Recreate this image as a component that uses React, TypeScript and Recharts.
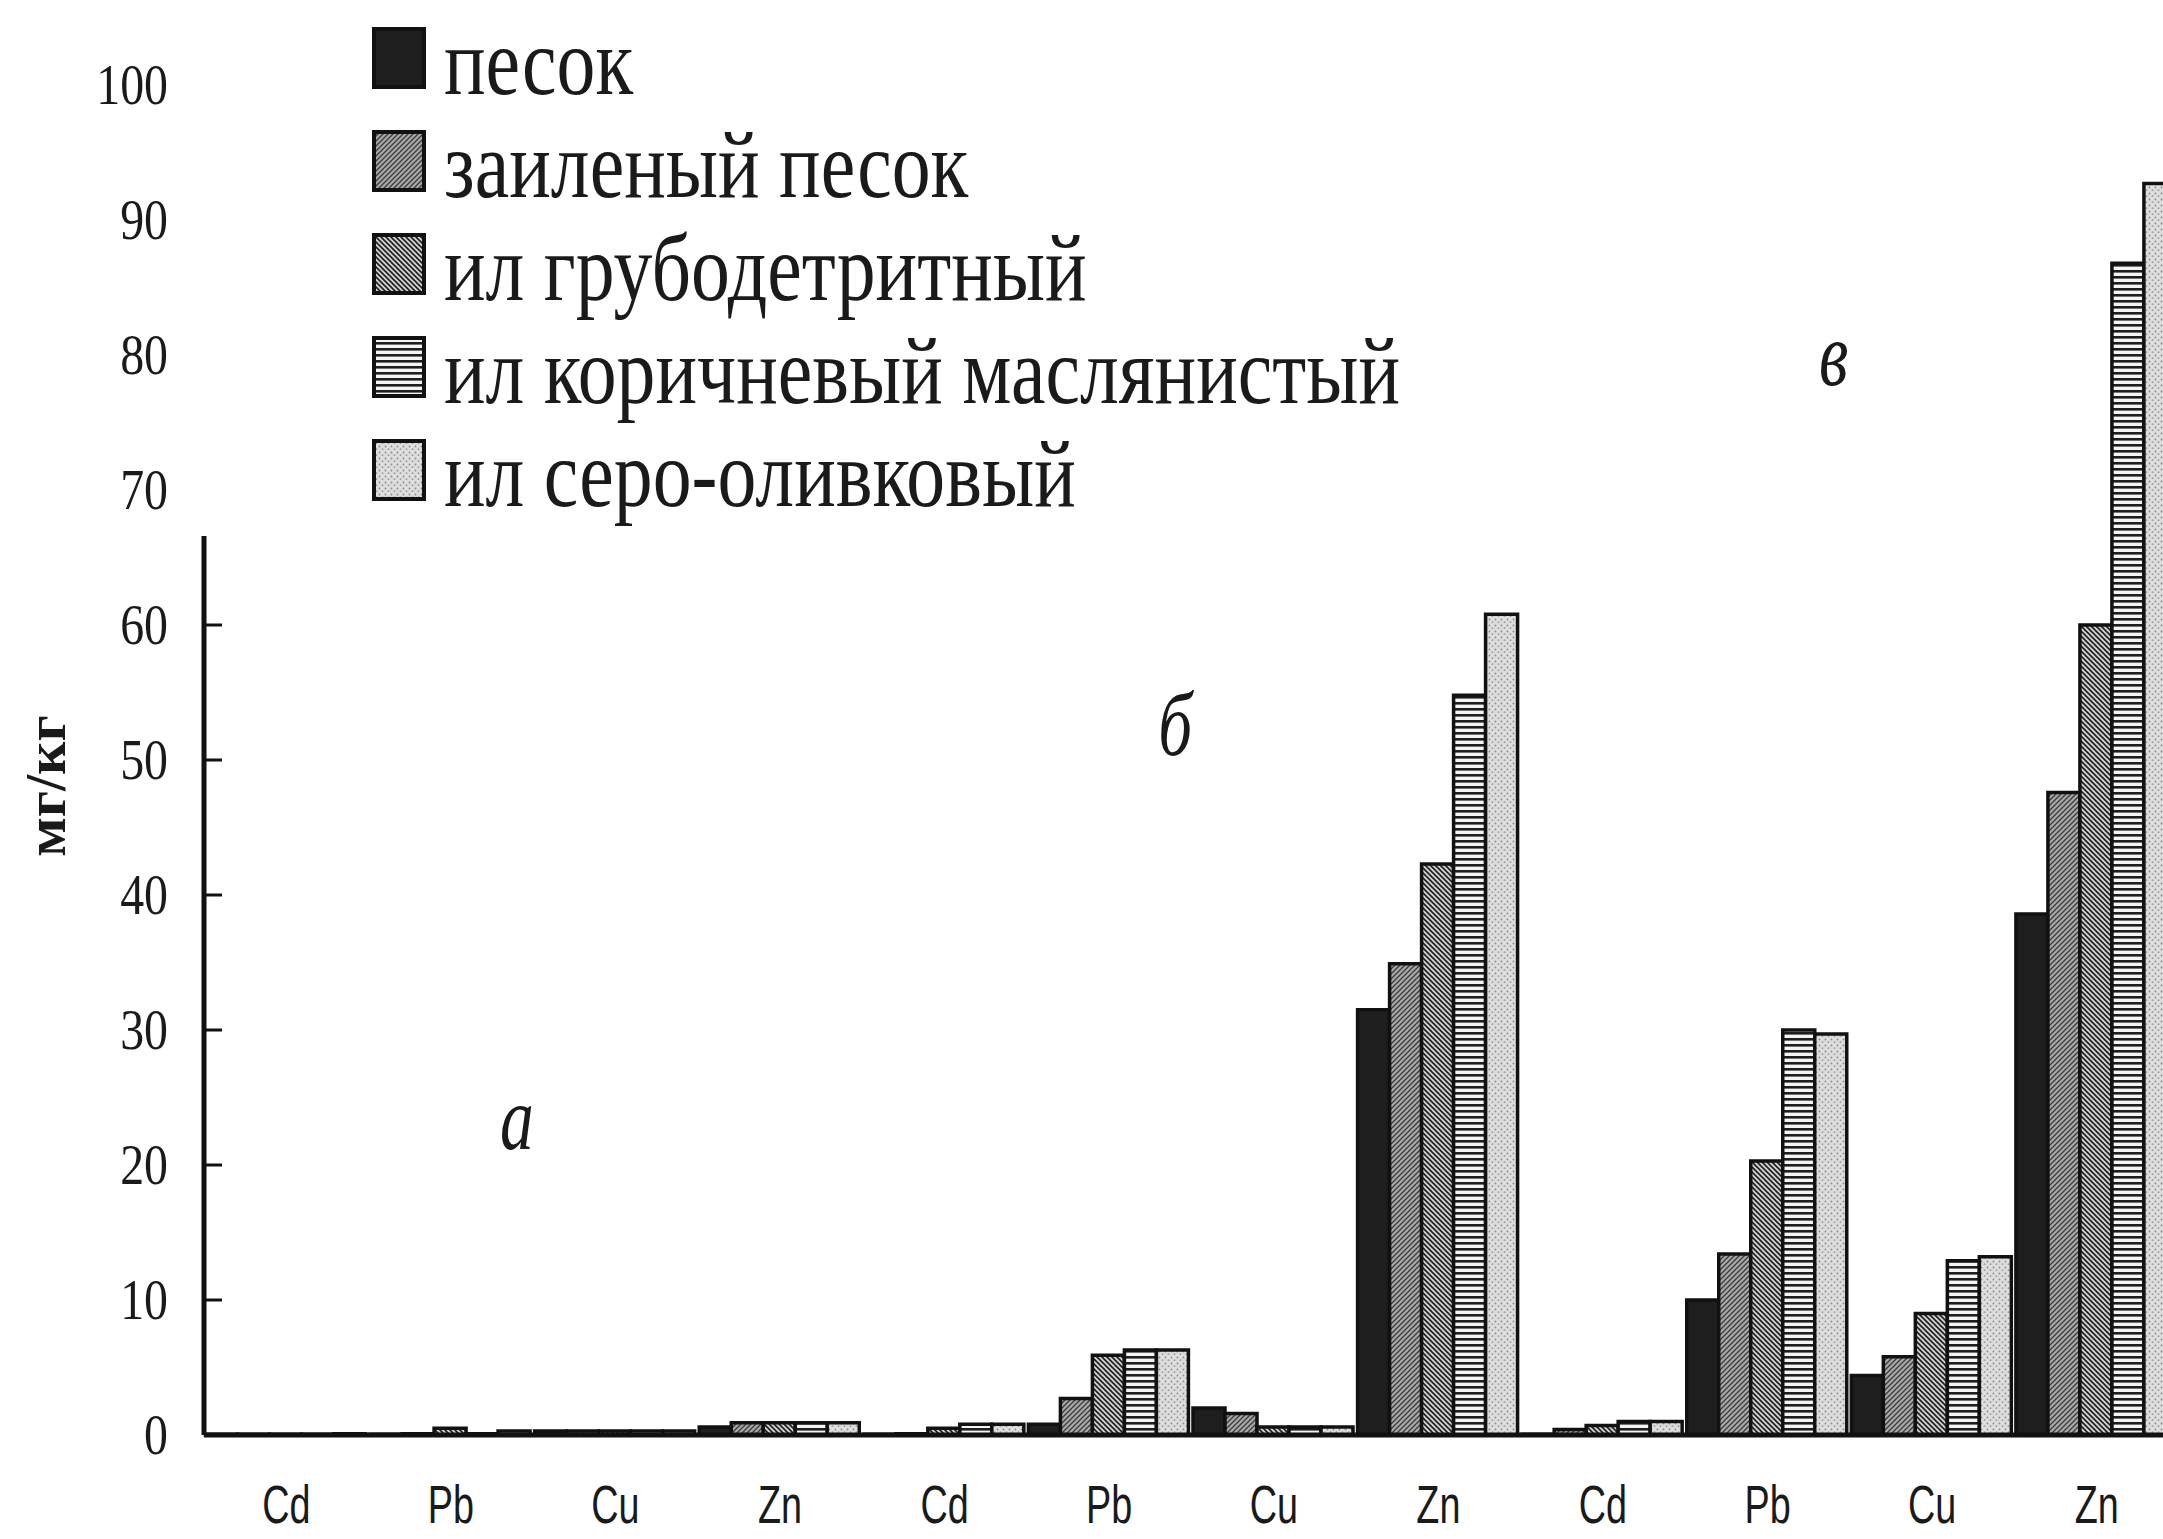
import { BarChart, Bar, XAxis, YAxis, Legend, ReferenceLine, ReferenceDot } from "recharts";

const sites = ["а", "б", "в"];
const elements = ["Cd", "Pb", "Cu", "Zn"];
const yTicks = [0, 10, 20, 30, 40, 50, 60, 70, 80, 90, 100];

const seriesNames = [
  "песок",
  "заиленый песок",
  "ил грубодетритный",
  "ил коричневый маслянистый",
  "ил серо-оливковый",
];
const seriesKeys = ["sand", "silt", "coarse", "brown", "olive"];

// order: а Cd Pb Cu Zn, б Cd Pb Cu Zn, в Cd Pb Cu Zn
const sandValues = [0.05, 0.05, 0.3, 0.6, 0.05, 0.8, 2.0, 31.5, 0.05, 10.0, 4.4, 38.6];
const siltValues = [0.05, 0.1, 0.3, 0.9, 0.1, 2.7, 1.6, 34.9, 0.4, 13.4, 5.8, 47.6];
const coarseValues = [0.05, 0.5, 0.3, 0.9, 0.5, 5.9, 0.6, 42.3, 0.7, 20.3, 9.0, 60.0];
const brownValues = [0.05, 0.1, 0.3, 0.9, 0.8, 6.3, 0.6, 54.8, 1.0, 30.0, 12.9, 86.8];
const oliveValues = [0.1, 0.3, 0.3, 0.9, 0.8, 6.3, 0.6, 60.8, 1.0, 29.7, 13.2, 92.7];

// site letters: value of baseline
const siteLetterY = [21.2, 50.4, 77.8];
const yAxisTop = 66.6;

const keys = sites.flatMap((s) => elements.map((e) => `${s}-${e}`));
const data = keys.map((key, i) => ({
  key,
  sand: sandValues[i],
  silt: siltValues[i],
  coarse: coarseValues[i],
  brown: brownValues[i],
  olive: oliveValues[i],
}));

const SERIF = "'Liberation Serif', 'Times New Roman', serif";
const SANS = "'Liberation Sans', Arial, sans-serif";
const INK = "#1a1a1a";

function patternDefs(prefix: string) {
  return (
    <defs>
      <pattern id={`${prefix}-sand`} width="6" height="6" patternUnits="userSpaceOnUse">
        <rect width="6" height="6" fill="#1e1e1e" />
      </pattern>
      <pattern id={`${prefix}-silt`} width="5" height="5" patternUnits="userSpaceOnUse">
        <rect width="5" height="5" fill="#a9a9a9" />
        <path d="M-1,1 l2,-2 M0,5 l5,-5 M4,6 l2,-2" stroke="#3a3a3a" strokeWidth="1.3" />
      </pattern>
      <pattern id={`${prefix}-coarse`} width="5" height="5" patternUnits="userSpaceOnUse">
        <rect width="5" height="5" fill="#d2d2d2" />
        <path d="M-1,4 l2,2 M0,0 l5,5 M4,-1 l2,2" stroke="#1e1e1e" strokeWidth="1.6" />
      </pattern>
      <pattern id={`${prefix}-brown`} width="6" height="6" patternUnits="userSpaceOnUse">
        <rect width="6" height="6" fill="#f4f4f4" />
        <rect width="6" height="2.6" fill="#1e1e1e" />
      </pattern>
      <pattern id={`${prefix}-olive`} width="6" height="6" patternUnits="userSpaceOnUse">
        <rect width="6" height="6" fill="#dcdcdc" />
        <circle cx="1.5" cy="1.5" r="0.9" fill="#8a8a8a" />
        <circle cx="4.5" cy="4.2" r="0.9" fill="#9a9a9a" />
        <circle cx="4" cy="1" r="0.6" fill="#f8f8f8" />
      </pattern>
    </defs>
  );
}

function XTick(props: any) {
  const { x, y, payload } = props;
  const label = String(payload.value).split("-")[1];
  return (
    <text
      transform={`translate(${x},${y}) scale(0.7,1)`}
      textAnchor="middle"
      fontFamily={SANS}
      fontSize={54}
      fill={INK}
    >
      {label}
    </text>
  );
}

function YTick(props: any) {
  const { x, y, payload } = props;
  const v = payload.value;
  return (
    <g>
      <text
        transform={`translate(${x},${y}) scale(0.84,1)`}
        textAnchor="end"
        dy="0.33em"
        fontFamily={SERIF}
        fontSize={57}
        fill={INK}
      >
        {v}
      </text>
      {v >= 10 && v <= 60 && (
        <line x1={x + 36} x2={x + 54} y1={y} y2={y} stroke="#111" strokeWidth={3} />
      )}
    </g>
  );
}

function YLabel(props: any) {
  const { viewBox } = props;
  const cx = viewBox.x + 65;
  const cy = viewBox.y + viewBox.height / 2 + 26;
  return (
    <text
      transform={`translate(${cx},${cy}) rotate(-90)`}
      textAnchor="middle"
      fontFamily={SERIF}
      fontWeight="bold"
      fontSize={58}
      fill={INK}
    >
      мг/кг
    </text>
  );
}

function SiteLetter(props: any) {
  const { viewBox, text } = props;
  const cx = viewBox.x + viewBox.width / 2 + 66;
  const cy = viewBox.y + viewBox.height / 2;
  return (
    <text
      transform={`translate(${cx},${cy}) scale(0.75,1)`}
      textAnchor="middle"
      fontFamily={SERIF}
      fontStyle="italic"
      fontSize={90}
      fill={INK}
    >
      {text}
    </text>
  );
}

function LegendBox() {
  return (
    <div style={{ fontFamily: SERIF, fontSize: 96, lineHeight: "103px", color: INK }}>
      <svg width={0} height={0} style={{ position: "absolute" }}>
        {patternDefs("lg")}
      </svg>
      {seriesNames.map((name, i) => (
        <div
          key={name}
          style={{ display: "flex", alignItems: "flex-start", height: 103, whiteSpace: "nowrap" }}
        >
          <svg width={54} height={62} style={{ marginTop: 17, flex: "none" }}>
            <rect
              x={2}
              y={2}
              width={50}
              height={58}
              fill={`url(#lg-${seriesKeys[i]})`}
              stroke="#111"
              strokeWidth={4}
            />
          </svg>
          <span
            style={{
              display: "inline-block",
              marginLeft: 18,
              transform: "scaleX(0.81)",
              transformOrigin: "0 50%",
            }}
          >
            {name}
          </span>
        </div>
      ))}
    </div>
  );
}

export default function App() {
  return (
    <div
      style={{
        position: "absolute",
        left: 0,
        top: 0,
        width: 2163,
        height: 1539,
        overflow: "hidden",
        background: "#fff",
      }}
    >
      <BarChart
        width={2179}
        height={1539}
        data={data}
        margin={{ top: 85, right: 0, bottom: 0, left: 0 }}
        barCategoryGap={1.5}
        barGap={0}
      >
        {patternDefs("bar")}
        <XAxis
          dataKey="key"
          interval={0}
          height={104}
          tick={<XTick />}
          tickLine={false}
          tickSize={0}
          tickMargin={88}
          axisLine={{ stroke: "#111", strokeWidth: 5 }}
        />
        <YAxis
          type="number"
          domain={[0, 100]}
          ticks={yTicks}
          interval={0}
          width={204}
          axisLine={false}
          tickLine={false}
          tickSize={0}
          tickMargin={36}
          tick={<YTick />}
          label={<YLabel />}
        />
        <Legend
          layout="vertical"
          align="center"
          verticalAlign="middle"
          wrapperStyle={{ top: 10, left: 372, width: 1100 }}
          content={<LegendBox />}
        />
        {seriesKeys.map((k, i) => (
          <Bar
            key={k}
            dataKey={k}
            name={seriesNames[i]}
            fill={`url(#bar-${k})`}
            stroke="#111"
            strokeWidth={3.5}
            isAnimationActive={false}
          />
        ))}
        <ReferenceLine
          segment={[
            { x: keys[0], y: 0 },
            { x: keys[0], y: yAxisTop },
          ]}
          position="start"
          stroke="#111"
          strokeWidth={5}
          ifOverflow="visible"
        />
        {sites.map((s, i) => (
          <ReferenceDot
            key={s}
            x={`${s}-Pb`}
            y={siteLetterY[i]}
            r={1}
            fill="none"
            stroke="none"
            label={<SiteLetter text={s} />}
          />
        ))}
      </BarChart>
    </div>
  );
}
